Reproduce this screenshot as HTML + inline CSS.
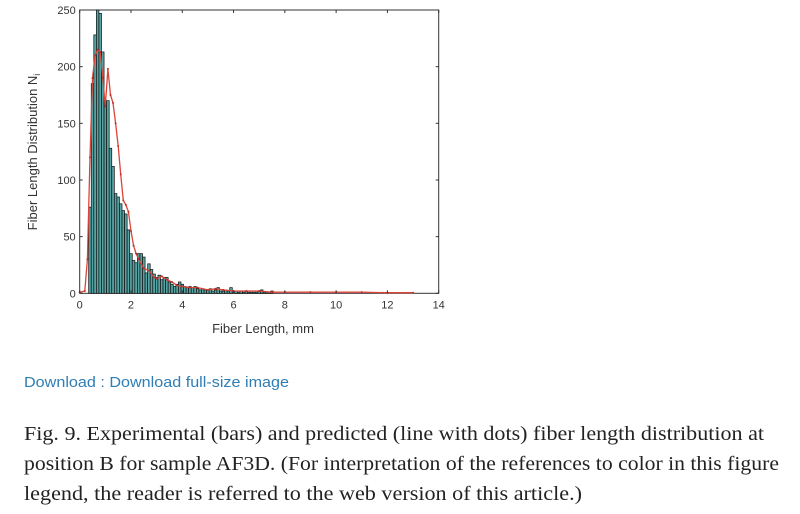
<!DOCTYPE html>
<html><head><meta charset="utf-8"><style>
html,body{margin:0;padding:0;background:#fff;width:800px;height:514px;overflow:hidden}
svg{display:block}
</style></head><body>
<svg id="fig" width="800" height="514" viewBox="0 0 800 514">
<g id="plot"></g>
<text x="24" y="387" font-family="Liberation Sans, sans-serif" font-size="14.5" fill="#2e7eb5" textLength="265" lengthAdjust="spacingAndGlyphs">Download : Download full-size image</text>
<g font-family="Liberation Serif, serif" font-size="19.5" fill="#222">
<text x="24" y="440" textLength="740" lengthAdjust="spacingAndGlyphs">Fig. 9. Experimental (bars) and predicted (line with dots) fiber length distribution at</text>
<text x="24" y="470" textLength="755" lengthAdjust="spacingAndGlyphs">position B for sample AF3D. (For interpretation of the references to color in this figure</text>
<text x="24" y="500" textLength="558" lengthAdjust="spacingAndGlyphs">legend, the reader is referred to the web version of this article.)</text>
</g>
</svg>
<script>
const binCenters=[];for(let i=0;i<72;i++)binCenters.push(+(0.4+i*0.1).toFixed(2));
const binCounts=[76,185,228,250,247,213,170,170,128,112,88,85,79,73,70,56,35,29,27,35,35,32,18,26,21,17,14,16,12,14,14,10,8,6,8,10,8,6,5,6,5,6,4,3,4,3,3,4,2,3,5,2,2,3,2,5,2,2,1,2,1,2,1,1,1,1,2,3,1,1,1,2];
const predX=[0,0.2,0.3,0.4,0.5,0.6,0.7,0.8,0.9,1.0,1.1,1.2,1.3,1.4,1.5,1.6,1.7,1.8,1.9,2.0,2.1,2.2,2.3,2.5,2.7,2.9,3.0,3.2,3.4,3.6,3.8,4.0,4.3,4.6,5.0,5.3,5.6,6.0,6.5,7.0,7.5,8.0,9.0,10.0,11.0,12.0,13.0];
const predY=[1,2,30,120,190,210,215,213,190,165,198,175,168,150,130,105,82,78,72,55,42,35,30,22,20,14,13,15,12,10,7,6,5,5,3,4,3,2,2,2,1,1,1,1,1,0.5,0.5];
const xTicks=[0,2,4,6,8,10,12,14];
const yTicks=[0,50,100,150,200,250];
const X0=79.7,X1=438.7,Y0=293.3,Y1=10;
const sx=v=>X0+(v/14)*(X1-X0), sy=v=>Y0-(v/250)*(Y0-Y1);
const ns='http://www.w3.org/2000/svg', g=document.getElementById('plot');
function mk(t,a){const e=document.createElementNS(ns,t);for(const k in a)e.setAttribute(k,a[k]);g.appendChild(e);return e;}
const frame=mk('rect',{x:X0,y:Y1,width:X1-X0,height:Y0-Y1,fill:'none',stroke:'#333','stroke-width':1});


binCenters.forEach((c,i)=>{
 const r=mk('rect',{x:sx(c-0.05),y:sy(binCounts[i]),width:sx(0.1)-sx(0),height:Y0-sy(binCounts[i]),fill:'#55a3a3',stroke:'#111','stroke-width':0.7});
 
 
});
const pts=predX.map((x,i)=>sx(x).toFixed(1)+','+sy(predY[i]).toFixed(1)).join(' ');
const line=mk('polyline',{points:pts,fill:'none',stroke:'#d9453a','stroke-width':1.3});


predX.forEach((x,i)=>{
 const d=mk('circle',{cx:sx(x),cy:sy(predY[i]),r:1,fill:'#c0302a'});
 
 
});
xTicks.forEach(t=>{
 mk('line',{x1:sx(t),x2:sx(t),y1:Y0,y2:Y0-3,stroke:'#333'});
 mk('line',{x1:sx(t),x2:sx(t),y1:Y1,y2:Y1+3,stroke:'#333'});
 const l=mk('text',{x:sx(t),y:Y0+15,'text-anchor':'middle','font-family':'Liberation Sans, sans-serif','font-size':11,fill:'#333'});
 l.textContent=t;
 
 
});
yTicks.forEach(t=>{
 mk('line',{x1:X0,x2:X0+3,y1:sy(t),y2:sy(t),stroke:'#333'});
 mk('line',{x1:X1,x2:X1-3,y1:sy(t),y2:sy(t),stroke:'#333'});
 const l=mk('text',{x:X0-4,y:sy(t)+4,'text-anchor':'end','font-family':'Liberation Sans, sans-serif','font-size':11,fill:'#333'});
 l.textContent=t;
 
 
});
const xt=mk('text',{x:263,y:333,'text-anchor':'middle','font-family':'Liberation Sans, sans-serif','font-size':13,fill:'#333'});
xt.textContent='Fiber Length, mm';


const yt=mk('text',{x:0,y:0,'text-anchor':'middle','font-family':'Liberation Sans, sans-serif','font-size':13,fill:'#333',transform:'translate(37,152) rotate(-90)'});
yt.innerHTML='Fiber Length Distribution N<tspan font-size="9" dy="3">i</tspan>';


</script>
</body></html>
